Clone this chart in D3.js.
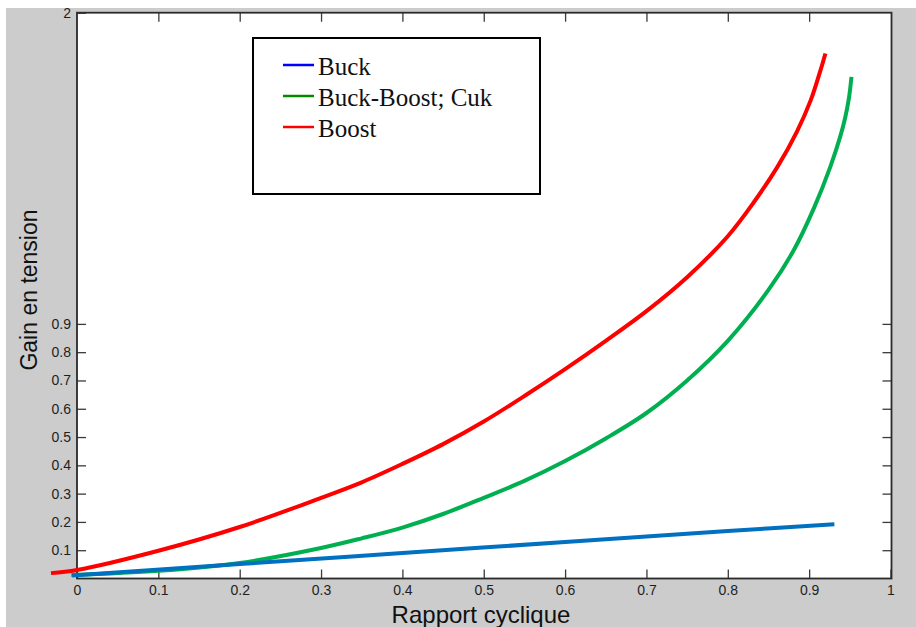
<!DOCTYPE html>
<html>
<head>
<meta charset="utf-8">
<script src="https://cdn.jsdelivr.net/npm/d3@7"></script>
<style>
  html, body { margin: 0; padding: 0; background: #fff; }
  svg { display: block; }
</style>
</head>
<body>
<div id="chart"></div>
<script>
// Values (duty cycle -> voltage gain)
const buckD = [-0.006, 0.2, 0.4, 0.6, 0.8, 0.931];
const buckG = [0.011, 0.051, 0.090, 0.129, 0.168, 0.192];

const buckBoostD = [-0.007, 0.1, 0.2, 0.3, 0.35, 0.4, 0.45, 0.5, 0.55, 0.6, 0.65, 0.7, 0.75, 0.8, 0.85, 0.881, 0.906, 0.926, 0.938, 0.944, 0.949, 0.952];
const buckBoostG = [0.012, 0.027, 0.055, 0.108, 0.142, 0.180, 0.228, 0.285, 0.345, 0.415, 0.495, 0.585, 0.70, 0.84, 1.02, 1.16, 1.31, 1.455, 1.56, 1.625, 1.70, 1.773];

const boostD = [-0.032, 0, 0.1, 0.2, 0.3, 0.35, 0.4, 0.45, 0.5, 0.55, 0.6, 0.65, 0.7, 0.75, 0.8, 0.832, 0.861, 0.885, 0.902, 0.914, 0.92];
const boostG = [0.019, 0.03, 0.098, 0.182, 0.285, 0.34, 0.405, 0.475, 0.555, 0.645, 0.74, 0.84, 0.945, 1.065, 1.21, 1.33, 1.455, 1.58, 1.691, 1.797, 1.856];

const xTicks = [0, 0.1, 0.2, 0.3, 0.4, 0.5, 0.6, 0.7, 0.8, 0.9, 1];
const yTicks = [0.1, 0.2, 0.3, 0.4, 0.5, 0.6, 0.7, 0.8, 0.9, 2];
const yTicksRight = [0.1, 0.2, 0.3, 0.4, 0.5, 0.6, 0.7, 0.8, 0.9];

const legendLabels = ['Buck', 'Buck-Boost; Cuk', 'Boost'];
const legendColors = ['#0000ff', '#008a00', '#ff0000'];

const width = 916;
const height = 627;
const plot = { left: 77, right: 890.5, top: 12.7, bottom: 578.5 };

const xScale = d3.scaleLinear().domain([0, 1]).range([plot.left, plot.right]);
const yScale = d3.scaleLinear().domain([0, 2]).range([plot.bottom, plot.top]);

const svg = d3.select('#chart').append('svg')
  .attr('width', width)
  .attr('height', height);

// grey figure background
svg.append('rect')
  .attr('x', 6).attr('y', 8)
  .attr('width', width - 6).attr('height', height - 8)
  .attr('fill', '#cccccc');

// white axes area
svg.append('rect')
  .attr('x', plot.left).attr('y', plot.top)
  .attr('width', plot.right - plot.left + 1).attr('height', plot.bottom - plot.top)
  .attr('fill', '#fff');

const tickColor = '#3a3a3a';
const labelFont = '"Liberation Sans", Arial, sans-serif';

function styleAxis(g) {
  g.select('.domain').remove();
  g.selectAll('.tick line').attr('stroke', tickColor).attr('stroke-width', 1.3);
  g.selectAll('.tick text')
    .attr('fill', '#1e1e1e')
    .style('font-family', labelFont)
    .style('font-size', '14px');
}

svg.append('g')
  .attr('transform', `translate(0,${plot.bottom})`)
  .call(d3.axisBottom(xScale).tickValues(xTicks).tickFormat(d => d)
    .tickSizeInner(-9).tickSizeOuter(0).tickPadding(7))
  .call(styleAxis);

svg.append('g')
  .attr('transform', `translate(0,${plot.top})`)
  .call(d3.axisTop(xScale).tickValues(xTicks.slice(1, -1)).tickFormat('')
    .tickSizeInner(-9).tickSizeOuter(0))
  .call(styleAxis);

svg.append('g')
  .attr('transform', `translate(${plot.left},0)`)
  .call(d3.axisLeft(yScale).tickValues(yTicks).tickFormat(d => d)
    .tickSizeInner(-9).tickSizeOuter(0).tickPadding(6))
  .call(styleAxis);

svg.append('g')
  .attr('transform', `translate(${plot.right + 1},0)`)
  .call(d3.axisRight(yScale).tickValues(yTicksRight).tickFormat('')
    .tickSizeInner(-9).tickSizeOuter(0))
  .call(styleAxis);

// box around the axes
svg.append('rect')
  .attr('x', plot.left).attr('y', plot.top)
  .attr('width', plot.right - plot.left + 1).attr('height', plot.bottom - plot.top)
  .attr('fill', 'none')
  .attr('stroke', '#2a2a2a')
  .attr('stroke-width', 1.8);

// curves (not clipped, they start a bit left of the axis like the original)
const line = d3.line()
  .x(d => xScale(d[0]))
  .y(d => yScale(d[1]))
  .curve(d3.curveCatmullRom.alpha(0.5));

const series = [
  { d: buckBoostD, g: buckBoostG, color: '#00b050' },
  { d: buckD, g: buckG, color: '#0070c0' },
  { d: boostD, g: boostG, color: '#ff0000' }
];

svg.selectAll('path.curve')
  .data(series)
  .enter().append('path')
  .attr('class', 'curve')
  .attr('d', s => line(d3.zip(s.d, s.g)))
  .attr('fill', 'none')
  .attr('stroke', s => s.color)
  .attr('stroke-width', 4);

// axis titles
svg.append('text')
  .attr('x', 481).attr('y', 623)
  .attr('text-anchor', 'middle')
  .attr('fill', '#111')
  .style('font-family', labelFont)
  .style('font-size', '24px')
  .text('Rapport cyclique');

svg.append('text')
  .attr('transform', 'translate(37,290) rotate(-90)')
  .attr('text-anchor', 'middle')
  .attr('fill', '#111')
  .style('font-family', labelFont)
  .style('font-size', '23px')
  .text('Gain en tension');

// legend
const legend = svg.append('g');
legend.append('rect')
  .attr('x', 253).attr('y', 38)
  .attr('width', 287).attr('height', 156)
  .attr('fill', '#fff')
  .attr('stroke', '#000')
  .attr('stroke-width', 2);

const items = legend.selectAll('g.item')
  .data(legendLabels)
  .enter().append('g')
  .attr('class', 'item')
  .attr('transform', (d, i) => `translate(0,${74.5 + i * 31})`);

items.append('line')
  .attr('x1', 283).attr('x2', 314)
  .attr('y1', -9.5).attr('y2', -9.5)
  .attr('stroke', (d, i) => legendColors[i])
  .attr('stroke-width', 2.5);

items.append('text')
  .attr('x', 318)
  .attr('fill', '#111')
  .style('font-family', '"Liberation Serif", "Times New Roman", serif')
  .style('font-size', '25px')
  .text(d => d);
</script>
</body>
</html>
